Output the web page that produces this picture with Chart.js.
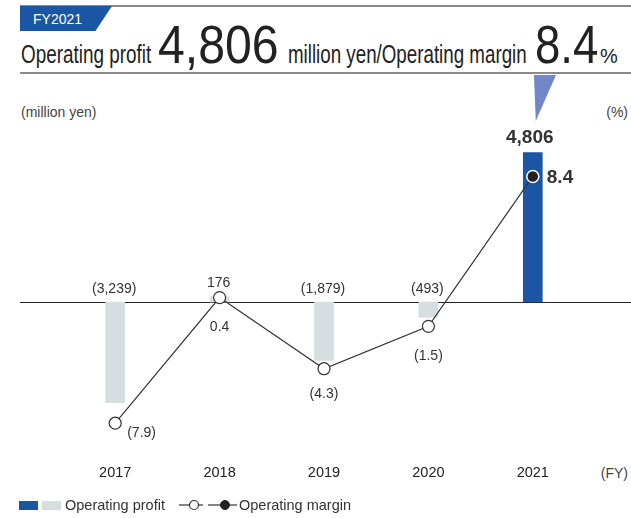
<!DOCTYPE html>
<html>
<head>
<meta charset="utf-8">
<script src="https://cdn.jsdelivr.net/npm/chart.js@4/dist/chart.umd.min.js"></script>
<style>
  body { margin: 0; background: #fff; font-family: "Liberation Sans", Arial, sans-serif; color: #333; }
  #wrap { position: relative; width: 631px; height: 518px; overflow: hidden; }
  #wrap > * { position: absolute; }
  .t { line-height: 1; white-space: nowrap; transform-origin: 0 0; }
  .rule { left: 20px; right: 0; background: #8a8a8a; }
  #tag { left: 20px; top: 6px; width: 92px; height: 25px; background: #1b56a5;
         clip-path: polygon(0 0, 100% 0, 82% 100%, 0 100%); }
  #pointer { left: 534px; top: 75px; width: 22px; height: 46px; background: #7088c8;
             clip-path: polygon(0 0, 100% 0, 8% 100%); }
  canvas { left: 0; top: 0; }
</style>
</head>
<body>
<div id="wrap">
  <div class="rule" style="top:5px;height:1.5px"></div>
  <div id="tag"></div>
  <span class="t" style="left:33px;top:12px;font-size:14px;color:#fff">FY2021</span>

  <span class="t" style="left:21px;top:42px;font-size:25px;color:#222;transform:scaleX(.756)">Operating profit</span>
  <span class="t" style="left:158px;top:18px;font-size:53px;color:#222;transform:scaleX(.91)">4,806</span>
  <span class="t" style="left:288px;top:42px;font-size:25px;color:#222;transform:scaleX(.75)">million yen/Operating margin</span>
  <span class="t" style="left:535px;top:18px;font-size:53px;color:#222;transform:scaleX(.86)">8.4</span>
  <span class="t" style="left:600px;top:46px;font-size:20px;color:#222">%</span>
  <div class="rule" style="top:72px;height:2px"></div>
  <div id="pointer"></div>

  <span class="t" style="left:21px;top:105px;font-size:14px;color:#444">(million yen)</span>
  <span class="t" style="right:3px;top:105px;font-size:14px;color:#444">(%)</span>
  <span class="t" style="right:3px;top:466px;font-size:14px;color:#444">(FY)</span>

  <canvas id="chart" width="631" height="518"></canvas>

  <!-- legend -->
  <div style="left:19px;top:501px;width:19px;height:9px;background:#1b56a5"></div>
  <div style="left:42px;top:501px;width:19px;height:9px;background:#d6dee1"></div>
  <span class="t" style="left:65px;top:498px;font-size:14.5px;color:#333">Operating profit</span>
  <svg style="left:178px;top:499px" width="60" height="12">
    <line x1="1" y1="6" x2="25" y2="6" stroke="#333" stroke-width="1.2"/>
    <circle cx="16" cy="6" r="4.5" fill="#fff" stroke="#333" stroke-width="1.2"/>
    <line x1="30" y1="6" x2="59" y2="6" stroke="#333" stroke-width="1.2"/>
    <circle cx="47" cy="6" r="4.5" fill="#222" stroke="#222" stroke-width="1"/>
  </svg>
  <span class="t" style="left:239px;top:498px;font-size:14.5px;color:#333">Operating margin</span>
</div>

<script>
const years = ["2017", "2018", "2019", "2020", "2021"];
const operatingProfit = [-3239, 176, -1879, -493, 4806]; // million yen
const operatingMargin = [-7.9, 0.4, -4.3, -1.5, 8.4]; // %

const BLUE = "#1b56a5";
const GRAY = "#d6dee1";
const INK = "#333";
const FONT = "'Liberation Sans', Arial, sans-serif";

const last = years.length - 1;

// negatives are shown in parentheses
const fmtProfit = (v) =>
  v < 0 ? `(${Math.abs(v).toLocaleString("en-US")})` : v.toLocaleString("en-US");
const fmtMargin = (v) =>
  v < 0 ? `(${Math.abs(v).toFixed(1)})` : v.toFixed(1);

// where each margin label sits relative to its point
const marginPlacement = [
  { side: "belowRight", gap: 10 },
  { side: "below", gap: 30 },
  { side: "below", gap: 25 },
  { side: "below", gap: 30 },
  { side: "right", gap: 14 },
];

const overlay = {
  id: "overlay",
  beforeDatasetsDraw(chart) {
    const ctx = chart.ctx;
    const y0 = Math.round(chart.scales.yProfit.getPixelForValue(0)) + 0.5;
    ctx.save();
    ctx.strokeStyle = "#222";
    ctx.lineWidth = 1;
    ctx.beginPath();
    ctx.moveTo(20, y0);
    ctx.lineTo(chart.width, y0);
    ctx.stroke();
    ctx.restore();
  },
  afterDatasetsDraw(chart) {
    const ctx = chart.ctx;
    const x = chart.scales.x;
    const bars = chart.getDatasetMeta(1).data;
    const points = chart.getDatasetMeta(0).data;

    ctx.save();
    ctx.textBaseline = "middle";

    // category labels
    ctx.fillStyle = "#222";
    ctx.textAlign = "center";
    ctx.font = `14.5px ${FONT}`;
    years.forEach((y, i) => ctx.fillText(y, x.getPixelForValue(i), 473));

    ctx.fillStyle = INK;

    // bar values
    operatingProfit.forEach((v, i) => {
      const bar = bars[i];
      const top = Math.min(bar.y, bar.base);
      ctx.font = i === last ? `bold 19px ${FONT}` : `14px ${FONT}`;
      ctx.textAlign = "center";
      const y = v < 0 ? bar.base - 13 : top - (i === last ? 15 : 13);
      ctx.fillText(fmtProfit(v), bar.x - (i === last ? 3 : 1), y);
    });

    // margin values
    operatingMargin.forEach((v, i) => {
      const p = points[i];
      const { side, gap } = marginPlacement[i];
      if (side === "right") {
        ctx.font = `bold 19px ${FONT}`;
        ctx.textAlign = "left";
        ctx.fillText(fmtMargin(v), p.x + gap, p.y + 1);
      } else if (side === "belowRight") {
        ctx.font = `14px ${FONT}`;
        ctx.textAlign = "left";
        ctx.fillText(fmtMargin(v), p.x + 12, p.y + gap);
      } else {
        ctx.font = `14px ${FONT}`;
        ctx.textAlign = "center";
        ctx.fillText(fmtMargin(v), p.x, p.y + gap);
      }
    });
    ctx.restore();
  },
};

new Chart(document.getElementById("chart"), {
  data: {
    labels: years,
    datasets: [
      {
        type: "line",
        label: "Operating margin",
        data: operatingMargin,
        yAxisID: "yMargin",
        borderColor: INK,
        borderWidth: 1.2,
        tension: 0,
        pointRadius: 6,
        pointBackgroundColor: years.map((_, i) => (i === last ? "#222" : "#fff")),
        pointBorderColor: years.map((_, i) => (i === last ? "#fff" : INK)),
        pointBorderWidth: years.map((_, i) => (i === last ? 1.5 : 1.2)),
        order: 0,
      },
      {
        type: "bar",
        label: "Operating profit",
        data: operatingProfit,
        yAxisID: "yProfit",
        backgroundColor: years.map((_, i) => (i === last ? BLUE : GRAY)),
        barThickness: 19,
        order: 1,
      },
    ],
  },
  options: {
    responsive: false,
    animation: false,
    layout: { padding: { left: 63, right: 46, top: 120, bottom: 68 } },
    plugins: {
      legend: { display: false },
      tooltip: { enabled: false },
    },
    scales: {
      x: { display: false, offset: true },
      yProfit: { display: false, min: -4759, max: 5852 },
      yMargin: { display: false, min: -9.67, max: 12.13 },
    },
  },
  plugins: [overlay],
});
</script>
</body>
</html>
